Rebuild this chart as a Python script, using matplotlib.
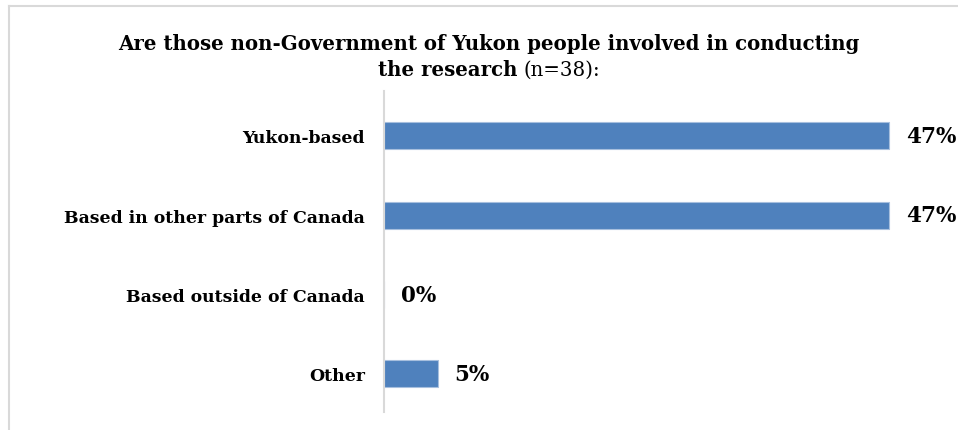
import matplotlib.pyplot as plt
from matplotlib.lines import Line2D

categories = ['Yukon-based', 'Based in other parts of Canada', 'Based outside of Canada', 'Other']
values = [47, 47, 0, 5]
value_labels = ['47%', '47%', '0%', '5%']

W, H = 958, 431
fig = plt.figure(figsize=(W / 100, H / 100), dpi=100)
# axes placed in pixel terms: left 384, right 921, top 92, bottom 413
ax = fig.add_axes([384 / W, (H - 413) / H, (921 - 384) / W, (413 - 92) / H])

pos = range(len(categories))
ax.barh(pos, values, height=0.34, color='#4F81BD', edgecolor='#A7BFDE', linewidth=0.8)
ax.set_xlim(0, 50)
ax.set_ylim(3.48, -0.567)

ax.set_yticks(list(pos))
ax.set_yticklabels(categories, family='DejaVu Serif', fontweight='bold', fontsize=12.4)
ax.tick_params(axis='y', length=0, pad=13.7)
ax.set_xticks([])
for s in ['top', 'right', 'bottom']:
    ax.spines[s].set_visible(False)
ax.spines['left'].set_color('#D9D9D9')
ax.spines['left'].set_linewidth(1.5)

for i, v in enumerate(values):
    ax.annotate(value_labels[i], (v, i), xytext=(17, 0), textcoords='offset pixels',
                va='center', ha='left', family='DejaVu Serif', fontweight='bold', fontsize=15.5)

# title, first line bold, second line mixed bold / regular
fig.text(489 / W, 1 - 44 / H, 'Are those non-Government of Yukon people involved in conducting',
         ha='center', va='center', family='DejaVu Serif', fontweight='bold', fontsize=14.2)
t_a = fig.text(0, 1 - 70 / H, 'the research ', ha='left', va='center',
               family='DejaVu Serif', fontweight='bold', fontsize=14.2)
t_b = fig.text(0, 1 - 70 / H, '(n=38):', ha='left', va='center',
               family='DejaVu Serif', fontsize=14.2)
fig.canvas.draw()
r = fig.canvas.get_renderer()
wa = t_a.get_window_extent(r).width
wb = t_b.get_window_extent(r).width
x0 = 489 - (wa + wb) / 2
t_a.set_x(x0 / W)
t_b.set_x((x0 + wa) / W)

# light border of the chart area
fig.add_artist(Line2D([9 / W, 9 / W], [0, 1 - 7 / H], color='#D9D9D9', lw=1.5))
fig.add_artist(Line2D([9 / W, 1], [1 - 7 / H, 1 - 7 / H], color='#D9D9D9', lw=1.5))

fig.savefig('out.png', dpi=100)
